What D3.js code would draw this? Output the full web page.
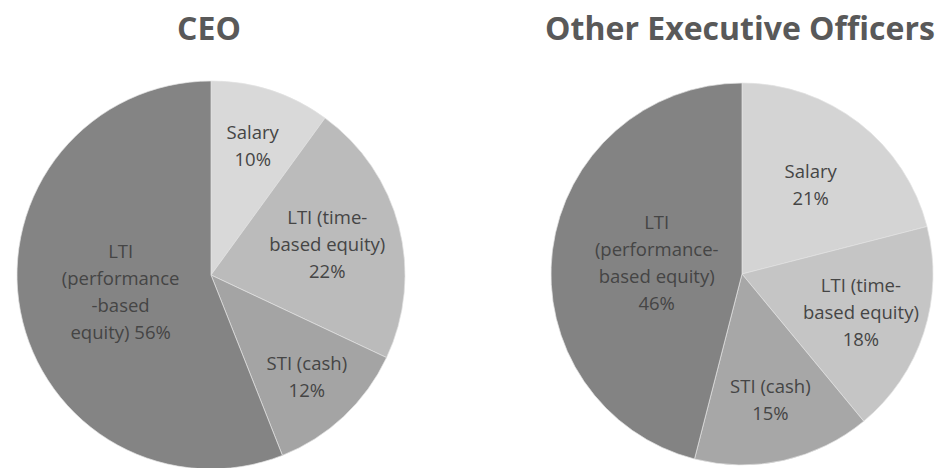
<!DOCTYPE html>
<html>
<head>
<meta charset="utf-8">
<script src="https://cdn.jsdelivr.net/npm/d3@7"></script>
<style>
  html, body { margin: 0; padding: 0; background: #fff; }
  text { font-family: "Open Sans", "Noto Sans", sans-serif; }
</style>
</head>
<body>
<div id="chart"></div>
<script>
// data
let categories = ['Salary', 'LTI (time-based equity)', 'STI (cash)', 'LTI (performance-based equity)'];
let ceoValues = [10, 22, 12, 56];
let otherValues = [21, 18, 15, 46];
let titles = ['CEO', 'Other Executive Officers'];
// label lines as they wrap in the picture
let ceoLabels = [['Salary', '10%'], ['LTI (time-', 'based equity)', '22%'], ['STI (cash)', '12%'], ['LTI', '(performance', '-based', 'equity) 56%']];
let otherLabels = [['Salary', '21%'], ['LTI (time-', 'based equity)', '18%'], ['STI (cash)', '15%'], ['LTI', '(performance-', 'based equity)', '46%']];

let W = 942, H = 468;
let svg = d3.select('#chart').append('svg').attr('width', W).attr('height', H);

//颜色
let colorsCeo = ['#d9d9d9', '#bbbbbb', '#a4a4a4', '#848484'];
let colorsOther = ['#d4d4d4', '#c5c5c5', '#a7a7a7', '#838383'];

//每个饼的位置和标签半径（按切片）
let pies = [
    {title: titles[0], values: ceoValues, labels: ceoLabels, colors: colorsCeo, cx: 211, cy: 275, r: 194, labelR: [135, 120, 140, 92]},
    {title: titles[1], values: otherValues, labels: otherLabels, colors: colorsOther, cx: 742, cy: 274, r: 191, labelR: [112, 125, 130, 86]}
];

let pie = d3.pie().sort(null).value(d => d);

pies.forEach(function (p) {
    let g = svg.append('g').attr('transform', 'translate(' + p.cx + ',' + p.cy + ')');
    let arc = d3.arc().innerRadius(0).outerRadius(p.r);
    let arcs = pie(p.values);

    g.selectAll('path')
        .data(arcs)
        .enter()
        .append('path')
        .attr('d', arc)
        .attr('fill', (d, i) => p.colors[i])
        .attr('stroke', '#e3e3e3')
        .attr('stroke-width', 0.7);

    //标签
    let lineH = 27;
    g.selectAll('text.lbl')
        .data(arcs)
        .enter()
        .append('text')
        .attr('class', 'lbl')
        .attr('text-anchor', 'middle')
        .attr('fill', '#454545')
        .attr('font-size', 18.5)
        .each(function (d, i) {
            let c = d3.arc().innerRadius(p.labelR[i]).outerRadius(p.labelR[i]).centroid(d);
            let lines = p.labels[i];
            let y0 = c[1] - (lines.length - 1) * lineH / 2 + 6;
            let t = d3.select(this);
            lines.forEach((s, k) => {
                t.append('tspan').attr('x', c[0]).attr('y', y0 + k * lineH).text(s);
            });
        });

    //标题
    svg.append('text')
        .attr('x', p.cx - 2)
        .attr('y', 40)
        .attr('text-anchor', 'middle')
        .attr('font-size', 32)
        .attr('font-weight', 'bold')
        .attr('fill', '#595959')
        .text(p.title);
});
</script>
</body>
</html>
